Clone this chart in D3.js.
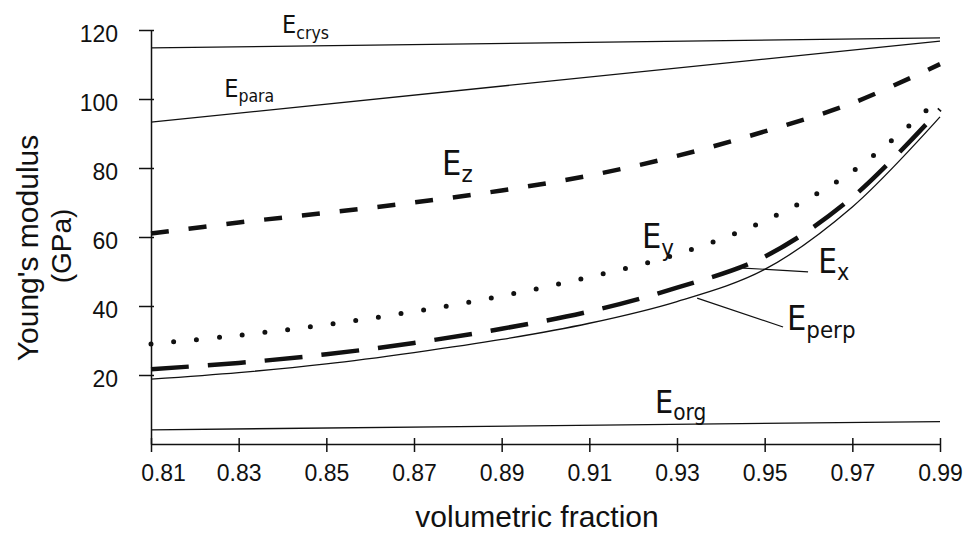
<!DOCTYPE html>
<html>
<head>
<meta charset="utf-8">
<script src="https://cdn.jsdelivr.net/npm/d3@7"></script>
<style>
  body { margin: 0; background: #fff; }
  svg { display: block; }
</style>
</head>
<body>
<div id="chart"></div>
<script>
/* CONSTANTS AND GLOBALS */
const width = 971,
  height = 537,
  font = "'Liberation Sans', Arial, sans-serif",
  narrow = "'Liberation Sans Narrow', 'DejaVu Sans Condensed', sans-serif";

/* DATA */
// volumetric fraction, shared by the curved series
const fractions = [0.81, 0.83, 0.85, 0.87, 0.89, 0.91, 0.93, 0.95, 0.97, 0.99];
const eZ    = [61.0, 64.2, 67.0, 70.0, 73.5, 77.8, 83.5, 90.6, 98.8, 110.1];
const eY    = [29.0, 31.5, 34.6, 38.4, 42.9, 48.4, 55.0, 64.7, 79.0, 100.2];
const eX    = [21.7, 23.5, 26.0, 29.3, 33.4, 38.4, 45.3, 54.3, 71.5, 97.0];
const ePerp = [18.8, 20.7, 23.2, 26.5, 30.3, 35.0, 41.3, 50.6, 68.7, 94.8];

// straight lines only need their end points
const lineEnds = [0.81, 0.99];
const eCrys = [114.8, 117.7];
const ePara = [93.3, 116.8];
const eOrg  = [4.1, 6.5];

const xTicks = [0.81, 0.83, 0.85, 0.87, 0.89, 0.91, 0.93, 0.95, 0.97, 0.99];
const yTicks = [20, 40, 60, 80, 100, 120];

// curve labels: name, subscript, anchor in data units
const labelNames = ["crys", "para", "z", "y", "x", "perp", "org"];
const labelX = [0.8399, 0.8267, 0.8764, 0.9220, 0.9622, 0.9551, 0.9250];
const labelY = [119.1, 100.6, 78.0, 56.8, 49.6, 33.0, 9.0];

// leader lines from label to curve, [x1, y1, x2, y2] in data units
const leaderX = [0.9599, 49.9, 0.9451, 51.0];
const leaderPerp = [0.9542, 33.9, 0.9346, 42.3];

/* SCALES */
const x = d3.scaleLinear().domain([0.81, 0.99]).range([151, 940]);
const y = d3.scaleLinear().domain([0, 120]).range([444, 30]);

const svg = d3.select("#chart")
  .append("svg")
  .attr("width", width)
  .attr("height", height);

/* SERIES */
const series = [
  { xs: lineEnds, ys: eCrys, width: 1.3, dash: null },
  { xs: lineEnds, ys: ePara, width: 1.3, dash: null },
  { xs: lineEnds, ys: eOrg, width: 1.3, dash: null },
  { xs: fractions, ys: ePerp, width: 1.3, dash: null },
  { xs: fractions, ys: eZ, width: 4.5, dash: "18 20" },
  { xs: fractions, ys: eX, width: 4.5, dash: "38 19" },
  { xs: fractions, ys: eY, width: 5, dash: "0 22.9", cap: "round" }
];

const line = d3.line()
  .x(d => x(d[0]))
  .y(d => y(d[1]))
  .curve(d3.curveCatmullRom.alpha(0.5));

svg.selectAll("path.series")
  .data(series)
  .join("path")
  .attr("class", "series")
  .attr("d", s => line(s.xs.map((v, i) => [v, s.ys[i]])))
  .attr("fill", "none")
  .attr("stroke", "#111")
  .attr("stroke-width", s => s.width)
  .attr("stroke-dasharray", s => s.dash)
  .attr("stroke-linecap", s => s.cap || "butt");

/* AXES */
const yAxis = d3.axisLeft(y)
  .tickValues(yTicks)
  .tickSize(12)
  .tickSizeOuter(0)
  .tickPadding(21);

const yAxisGroup = svg.append("g")
  .attr("transform", `translate(${x(0.81)},0)`)
  .call(yAxis);
yAxisGroup.selectAll(".tick line").attr("x1", 3);
yAxisGroup.selectAll(".tick text").attr("dy", "0.52em");

const xAxis = d3.axisBottom(x)
  .tickValues(xTicks)
  .tickSize(8)
  .tickSizeOuter(0)
  .tickPadding(13)
  .tickFormat(d3.format(".2f"));

const xAxisGroup = svg.append("g")
  .attr("transform", `translate(0,${y(0)})`)
  .call(xAxis);
xAxisGroup.selectAll(".tick line").attr("y1", -6);
xAxisGroup.selectAll(".tick text").filter(d => d === 0.81).attr("dx", 12);

[xAxisGroup, yAxisGroup].forEach(g => {
  g.attr("font-family", font).attr("font-size", 23);
  g.selectAll("path, line").attr("stroke", "#111").attr("stroke-width", 1.5);
  g.selectAll("text").attr("fill", "#111");
});

/* AXIS TITLES */
svg.append("text")
  .attr("x", 537)
  .attr("y", 527)
  .attr("text-anchor", "middle")
  .attr("font-family", font)
  .attr("font-size", 30)
  .attr("fill", "#111")
  .text("volumetric fraction");

svg.append("text")
  .attr("transform", "translate(38,248) rotate(-90)")
  .attr("text-anchor", "middle")
  .attr("font-family", font)
  .attr("font-size", 30)
  .attr("fill", "#111")
  .text("Young's modulus");

svg.append("text")
  .attr("transform", "translate(71,246) rotate(-90)")
  .attr("text-anchor", "middle")
  .attr("font-family", font)
  .attr("font-size", 28)
  .attr("fill", "#111")
  .text("(GPa)");

/* CURVE LABELS */
const labelSize = { crys: 25, para: 25, z: 34, y: 34, x: 33, perp: 34, org: 32 };

const labels = svg.selectAll("text.label")
  .data(labelNames)
  .join("text")
  .attr("class", "label")
  .attr("x", (d, i) => x(labelX[i]))
  .attr("y", (d, i) => y(labelY[i]))
  .attr("font-family", narrow)
  .attr("font-size", d => labelSize[d])
  .attr("fill", "#111");

labels.append("tspan").text("E");
labels.append("tspan")
  .attr("font-size", d => labelSize[d] * 0.7)
  .attr("dy", d => labelSize[d] * 0.22)
  .text(d => d);

svg.selectAll("line.leader")
  .data([leaderX, leaderPerp])
  .join("line")
  .attr("class", "leader")
  .attr("x1", d => x(d[0]))
  .attr("y1", d => y(d[1]))
  .attr("x2", d => x(d[2]))
  .attr("y2", d => y(d[3]))
  .attr("stroke", "#111")
  .attr("stroke-width", 1.2);
</script>
</body>
</html>
